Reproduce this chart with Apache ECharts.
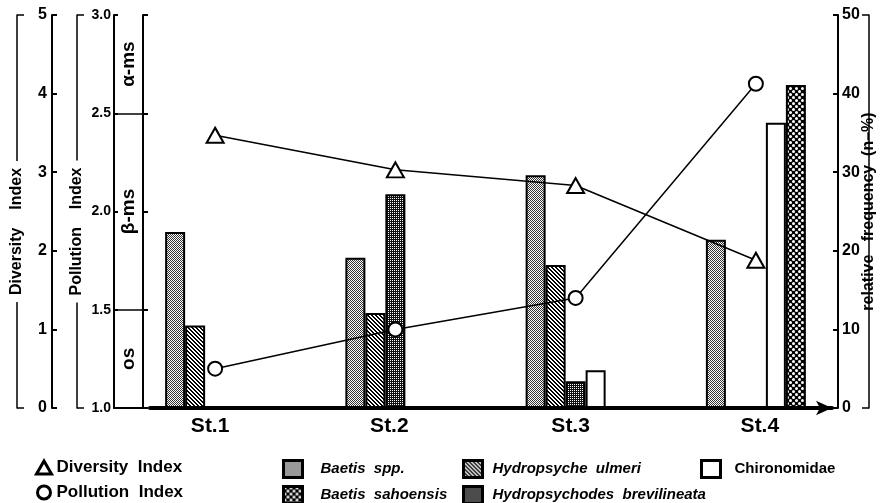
<!DOCTYPE html>
<html><head><meta charset="utf-8">
<script src="https://cdn.jsdelivr.net/npm/echarts@6/dist/echarts.min.js"></script>
<style>html,body{margin:0;padding:0;background:#fff}#c{width:885px;height:503px}</style>
</head><body><div id="c"></div>
<script>
// ---- data ----
const stations = ['St.1', 'St.2', 'St.3', 'St.4'];
const diversityIndex = [3.47, 3.03, 2.83, 1.88];
const pollutionIndex = [1.20, 1.40, 1.56, 2.65];
const baetisSpp = [22.4, 19.1, 29.6, 21.4];
const hydropsycheUlmeri = [10.5, 12.1, 18.2, null];
const hydropsychodesBrevilineata = [null, 27.2, 3.4, null];
const chironomidae = [null, null, 4.8, 36.3];
const baetisSahoensis = [null, null, null, 41.1];
const zoneLabels = ['os', 'β-ms', 'α-ms'];
const zoneEdges = [1.0, 1.5, 2.5, 3.0];
const freqTicks = [0, 50, 10];        // min, max, interval
const diversityTicks = [0, 5, 1];
const pollutionTicks = [1.0, 3.0, 0.5];

// ---- patterns ----
function pat(w, h, draw) {
  const c = document.createElement('canvas'); c.width = w; c.height = h;
  const g = c.getContext('2d'); draw(g); return { image: c, repeat: 'repeat' };
}
const pBaetis = pat(2, 2, g => { g.fillStyle = '#fff'; g.fillRect(0, 0, 2, 2); g.fillStyle = '#333'; g.fillRect(0, 0, 1, 1); g.fillRect(1, 1, 1, 1); });
const pHatch = pat(4, 4, g => { g.fillStyle = '#fff'; g.fillRect(0, 0, 4, 4); g.fillStyle = '#000'; for (let i = 0; i < 4; i++) { g.fillRect(i, i, 1, 1); g.fillRect((i + 1) % 4, i, 1, 1); } });
const pDark = pat(4, 4, g => { g.fillStyle = '#111'; g.fillRect(0, 0, 4, 4); g.fillStyle = '#fff'; g.fillRect(0, 0, 1, 1); g.fillRect(2, 2, 1, 1); g.fillRect(0, 2, 1, 1); g.fillRect(2, 0, 1, 1); });
const pCheck = pat(6, 6, g => { g.fillStyle = '#000'; g.fillRect(0, 0, 6, 6); g.fillStyle = '#fff'; g.beginPath(); g.arc(1.5, 1.5, 1.5, 0, 7); g.fill(); g.beginPath(); g.arc(4.5, 4.5, 1.5, 0, 7); g.fill(); });

const FF = 'Liberation Sans, Arial, sans-serif';
const L2 = { show: true, lineStyle: { color: '#000', width: 2 } };
const noSplit = { show: false };
const numLabel = { color: '#000', fontSize: 16, fontWeight: 'bold', fontFamily: FF };

function bar(name, data, color) {
  return { name, type: 'bar', xAxisIndex: 0, yAxisIndex: 2, data, barWidth: 20, barGap: '0%', z: 2,
    itemStyle: { color, borderColor: '#000', borderWidth: 2 } };
}
const stRich = {};
[[0, 10], [0, 12], [0, 10], [8, 0]].forEach((p, i) => { stRich['s' + i] = { fontSize: 21, fontWeight: 'bold', fontFamily: FF, color: '#000', padding: [0, p[1], 0, p[0]] }; });

const legendText = { color: '#000', fontSize: 15, fontWeight: 'bold', fontFamily: FF };
const barLegendItem = { borderColor: '#000', borderWidth: 3 };
const wide = n => n.replace(/ /g, '  ');

const chart = echarts.init(document.getElementById('c'), null, { renderer: 'canvas' });
chart.setOption({
  animation: false,
  backgroundColor: '#fff',
  textStyle: { fontFamily: FF },
  grid: [
    { left: 125, right: 38, top: 15, bottom: 95 },
    { left: 114, right: 742, top: 15, bottom: 95 },
    { left: 150, right: 53, top: 15, bottom: 95 },
    { left: 125, right: 38, top: 55, bottom: 95 }
  ],
  xAxis: [
    { gridIndex: 0, type: 'category', data: stations, axisLine: { show: false }, axisTick: { show: false },
      axisLabel: { color: '#000', fontSize: 21, fontWeight: 'bold', margin: 8, fontFamily: FF,
        formatter: (v, i) => '{s' + i + '|' + v + '}', rich: stRich } },
    { gridIndex: 1, type: 'value', min: 0, max: 1, axisLine: L2, axisTick: { show: false }, axisLabel: { show: false }, splitLine: noSplit },
    { gridIndex: 2, type: 'value', min: 0, max: 1, axisLine: { show: true, symbol: ['none', 'arrow'], symbolSize: [11, 16], lineStyle: { color: '#000', width: 4 } },
      axisTick: { show: false }, axisLabel: { show: false }, splitLine: noSplit },
    { gridIndex: 3, type: 'value', min: 0, max: 1, show: false }
  ],
  yAxis: [
    // 0 diversity
    { gridIndex: 0, type: 'value', min: diversityTicks[0], max: diversityTicks[1], interval: diversityTicks[2], position: 'left', offset: 73,
      axisLine: L2, axisTick: { show: true, inside: true, length: 5, lineStyle: { color: '#000', width: 2 } },
      axisLabel: Object.assign({ margin: 5 }, numLabel), splitLine: noSplit },
    // 1 pollution (hidden, for the line)
    { gridIndex: 0, type: 'value', min: pollutionTicks[0], max: pollutionTicks[1], show: false, splitLine: noSplit },
    // 2 relative frequency
    { gridIndex: 0, type: 'value', min: freqTicks[0], max: freqTicks[1], interval: freqTicks[2], position: 'right', offset: -8,
      axisLine: L2, axisTick: { show: true, inside: true, length: 5, lineStyle: { color: '#000', width: 2 } },
      axisLabel: Object.assign({ margin: 4 }, numLabel), splitLine: noSplit },
    // 3 diversity bracket
    { gridIndex: 0, type: 'value', min: 0, max: 1, interval: 1, position: 'left', offset: 108,
      axisLine: { show: true, lineStyle: { color: '#000', width: 1.5 } }, axisTick: { show: true, inside: true, length: 7, lineStyle: { color: '#000', width: 1.5 } },
      axisLabel: { show: false }, splitLine: noSplit },
    // 4 pollution bracket
    { gridIndex: 0, type: 'value', min: 0, max: 1, interval: 1, position: 'left', offset: 48,
      axisLine: { show: true, lineStyle: { color: '#000', width: 1.5 } }, axisTick: { show: true, inside: true, length: 7, lineStyle: { color: '#000', width: 1.5 } },
      axisLabel: { show: false }, splitLine: noSplit },
    // 5 right bracket with name
    { gridIndex: 0, type: 'value', min: 0, max: 1, interval: 1, position: 'right', offset: 23,
      axisLine: { show: true, lineStyle: { color: '#000', width: 1.5 } }, axisTick: { show: true, inside: true, length: 7, lineStyle: { color: '#000', width: 1.5 } },
      axisLabel: { show: false }, splitLine: noSplit,
      name: 'relative   frequency  (n–%)', nameLocation: 'middle', nameRotate: 90, nameGap: 0,
      nameTextStyle: { color: '#000', fontSize: 16, fontWeight: 'bold', verticalAlign: 'middle', align: 'center', backgroundColor: '#fff', padding: [0, 6] } },
    // 6 diversity name
    { gridIndex: 3, type: 'value', min: 0, max: 1, position: 'left', offset: 108, z: 5,
      axisLine: { show: false }, axisTick: { show: false }, axisLabel: { show: false }, splitLine: noSplit,
      name: 'Diversity    Index', nameLocation: 'middle', nameRotate: 90, nameGap: 0,
      nameTextStyle: { color: '#000', fontSize: 16, fontWeight: 'bold', verticalAlign: 'middle', align: 'center', backgroundColor: '#fff', padding: [0, 7] } },
    // 7 pollution name
    { gridIndex: 3, type: 'value', min: 0, max: 1, position: 'left', offset: 48, z: 5,
      axisLine: { show: false }, axisTick: { show: false }, axisLabel: { show: false }, splitLine: noSplit,
      name: 'Pollution    Index', nameLocation: 'middle', nameRotate: 90, nameGap: 0,
      nameTextStyle: { color: '#000', fontSize: 16, fontWeight: 'bold', verticalAlign: 'middle', align: 'center', backgroundColor: '#fff', padding: [0, 7] } },
    // 8 strip left (pollution scale labels)
    { gridIndex: 1, type: 'value', min: pollutionTicks[0], max: pollutionTicks[1], interval: pollutionTicks[2], position: 'left',
      axisLine: L2, axisTick: { show: true, inside: true, length: 4, lineStyle: { color: '#000', width: 2 } },
      axisLabel: { color: '#000', fontSize: 14, fontWeight: 'bold', margin: 3, formatter: v => v.toFixed(1) }, splitLine: noSplit },
    // 9 strip right
    { gridIndex: 1, type: 'value', min: pollutionTicks[0], max: pollutionTicks[1], interval: pollutionTicks[2], position: 'right',
      axisLine: L2, axisTick: { show: true, inside: false, length: 5, lineStyle: { color: '#000', width: 2 } },
      axisLabel: { show: false }, splitLine: noSplit },
    // 10 baseline grid
    { gridIndex: 2, type: 'value', min: 0, max: 1, show: false, splitLine: noSplit }
  ],
  legend: [
    { data: [{ name: 'Diversity Index', icon: 'triangle' }, { name: 'Pollution Index', icon: 'circle' }],
      left: 35, top: 459, height: 60, orient: 'vertical', padding: 0, itemGap: 8, selectedMode: false,
      itemWidth: 15, itemHeight: 13, formatter: wide,
      itemStyle: { color: '#fff', borderColor: '#000', borderWidth: 3 },
      textStyle: Object.assign({}, legendText, { fontSize: 17 }) },
    { data: [{ name: 'Baetis spp.', icon: 'rect' }, { name: 'Baetis sahoensis', icon: 'rect' }], left: 282, top: 459, height: 60,
      orient: 'vertical', padding: 0, itemGap: 6, selectedMode: false, itemWidth: 19, itemHeight: 17, formatter: wide,
      itemStyle: barLegendItem, textStyle: Object.assign({ fontStyle: 'italic', padding: [0, 0, 0, 13] }, legendText) },
    { data: [{ name: 'Hydropsyche ulmeri', icon: 'rect' }, { name: 'Hydropsychodes brevilineata', icon: 'rect' }], left: 462, top: 459, height: 60,
      orient: 'vertical', padding: 0, itemGap: 6, selectedMode: false, itemWidth: 19, itemHeight: 17, formatter: wide,
      itemStyle: barLegendItem, textStyle: Object.assign({ fontStyle: 'italic', padding: [0, 0, 0, 5] }, legendText) },
    { data: [{ name: 'Chironomidae', icon: 'rect' }], left: 700, top: 459, height: 60,
      orient: 'vertical', padding: 0, selectedMode: false, itemWidth: 19, itemHeight: 17,
      itemStyle: barLegendItem, textStyle: Object.assign({ padding: [0, 0, 0, 9] }, legendText) }
  ],
  series: [
    bar('Baetis spp.', baetisSpp, pBaetis),
    bar('Hydropsyche ulmeri', hydropsycheUlmeri, pHatch),
    bar('Hydropsychodes brevilineata', hydropsychodesBrevilineata, pDark),
    bar('Chironomidae', chironomidae, '#fff'),
    bar('Baetis sahoensis', baetisSahoensis, pCheck),
    { name: 'Diversity Index', type: 'line', xAxisIndex: 0, yAxisIndex: 0, data: diversityIndex, z: 6,
      symbol: 'triangle', symbolSize: [17, 15],
      lineStyle: { color: '#000', width: 1.5 }, itemStyle: { color: '#fff', borderColor: '#000', borderWidth: 2 } },
    { name: 'Pollution Index', type: 'line', xAxisIndex: 0, yAxisIndex: 1, data: pollutionIndex, z: 6,
      symbol: 'circle', symbolSize: 14,
      lineStyle: { color: '#000', width: 1.5 }, itemStyle: { color: '#fff', borderColor: '#000', borderWidth: 2 } },
    { name: 'zones', type: 'line', xAxisIndex: 1, yAxisIndex: 8, data: [], silent: true,
      markLine: { silent: true, symbol: 'none', label: { show: false },
        lineStyle: { color: '#000', type: 'solid', width: 1.5 },
        data: zoneEdges.slice(1, -1).map(v => ({ yAxis: v })) },
      markArea: { silent: true, itemStyle: { color: 'rgba(0,0,0,0)' },
        label: { show: true, position: 'inside', rotate: 90, color: '#000', fontSize: 19, fontWeight: 'bold', fontFamily: FF },
        data: zoneLabels.map((n, i) => [{ name: n, yAxis: zoneEdges[i] }, { yAxis: zoneEdges[i + 1] }]) } }
  ]
});
</script></body></html>
